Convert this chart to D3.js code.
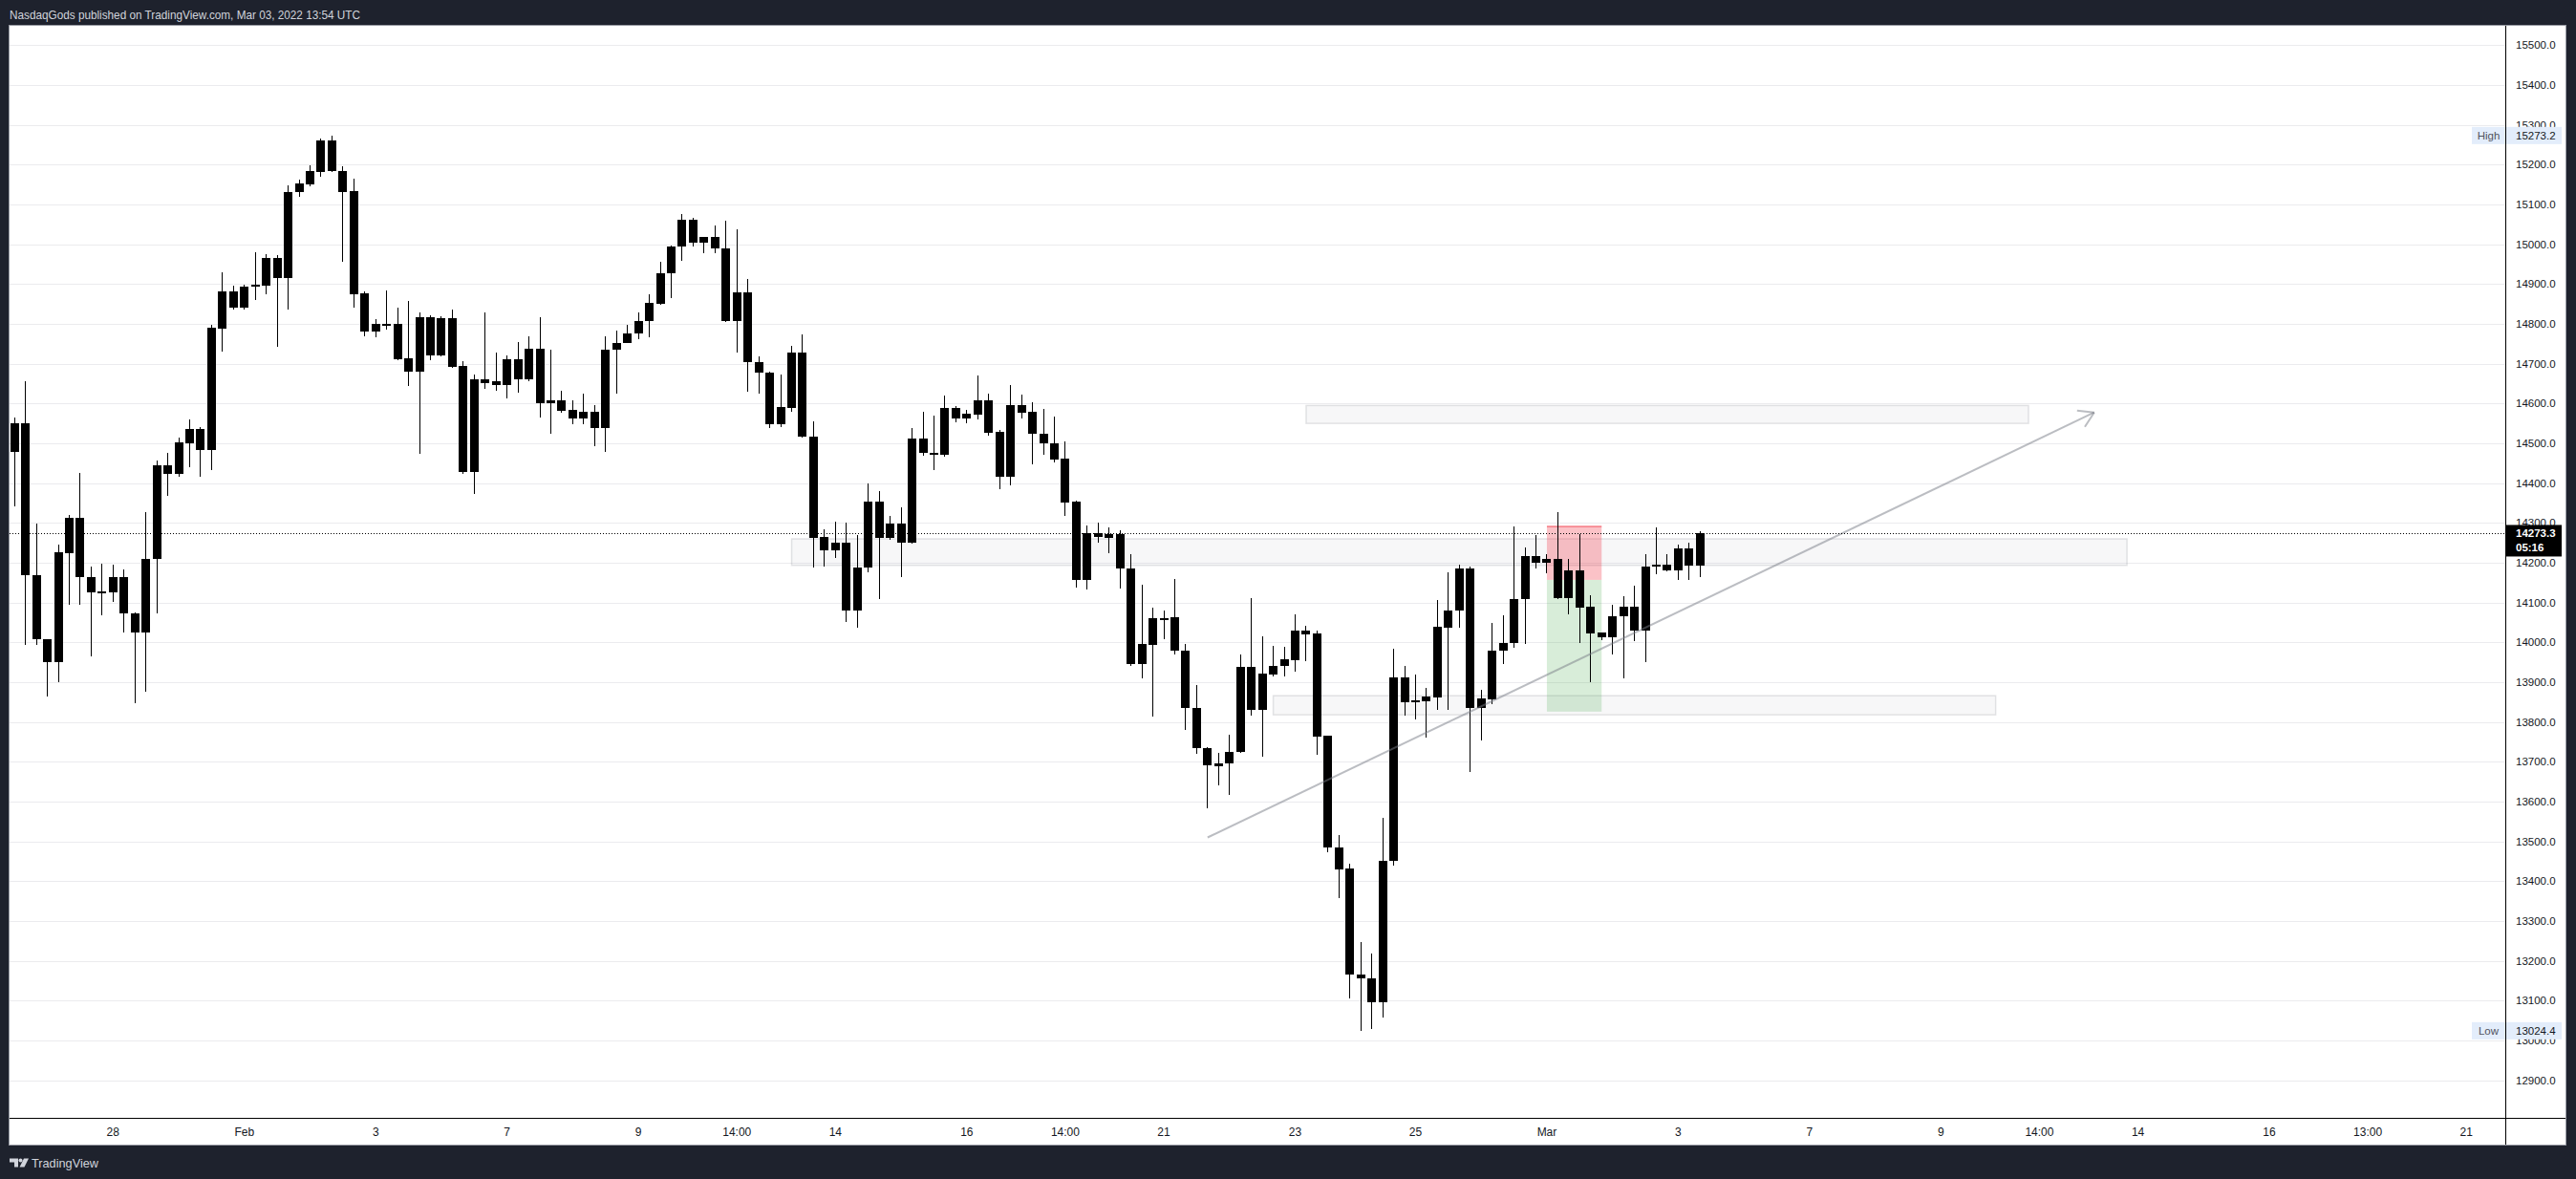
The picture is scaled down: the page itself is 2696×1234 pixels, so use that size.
<!DOCTYPE html>
<html><head><meta charset="utf-8">
<script src="https://cdn.jsdelivr.net/npm/d3@7"></script>
<style>
html,body{margin:0;padding:0;background:#1e222d;overflow:hidden;}
svg{display:block;}
</style></head><body>
<svg id="c" width="2696" height="1234"></svg>
<script>
// ---- data (NQ1! 4h candles) ----
const opens = [14479,14550,14168,14008,13950,14225,14313,14163.5,14126,14126,14163.5,14072.5,14024,14209,14445,14422,14500,14536,14484,14788,14881,14841,14893,14896,14965,14916,15130,15150,15182,15260,15185,15133,14876,14781.5,14800,14800.5,14713,14681,14817,14720,14814,14694,14427,14660,14655,14647,14711,14661,14737,14601,14609,14583,14563.5,14578,14538,14734,14753,14775,14808,14851,14926,14994,15061.6,15003,15018,14990,14808,14880,14704.5,14678,14549,14589,14728.5,14517,14265,14232,14250.6,14081,14188,14354,14263.4,14298.6,14251.4,14512.4,14477,14472,14588.7,14563,14573,14608,14528.7,14415.8,14596,14578.7,14524,14500,14462,14352.6,14156.4,14274.3,14263,14272,14185,13945,13994,14062,14063.7,13978.7,13834.6,13733.7,13690,13696,13724,13937.5,13830,13920,13942,13955,14028.7,14021.5,13764.5,13486,13431,13166.5,13157,13095,13450.7,13911,13849.4,13852,13861.4,14038,14079,14185,13835.6,13857.3,13979,13998,14108.7,14216.7,14200.7,14209.5,14111,14180.7,14089.4,14024.6,14013.4,14065.4,14089.4,14030,14190.3,14195,14181.5,14236,14193.5];
const highs = [14564.5,14655.5,14299,14008,14246,14320,14426,14191,14197,14195,14182.5,14075,14327.5,14456,14476,14514,14560,14542,14797.6,14929,14897,14899,14980,14975,14974,15149,15162,15198,15266,15273.2,15195,15166,14881,14812,14884,14840,14857,14828,14821,14820,14835.5,14706.6,14674,14828,14727.5,14722,14754,14768,14817,14735,14631,14609,14626,14595,14768,14784,14797,14828,14873.5,14955,14998,15077,15066,15019,15048,15060,15038,14913.5,14719,14680.5,14673,14745.3,14774,14555.6,14284,14303.4,14301,14270,14399.5,14380,14318,14339,14538.8,14580.4,14570,14620,14593.5,14584,14670.4,14625,14533.5,14646.4,14622,14603,14586,14567,14504.7,14355,14293,14301,14289,14282,14221,14146,14088.4,14081,14160.4,13996,13893.8,13738,13723,13767,13968.7,14110.4,14014.3,13990.3,13988,14069.6,14040.8,14030,13766,13517,13443,13248,13217.7,13560,13983,13940,13918.3,13884.6,14105.6,14175,14195,14190,13880.5,14048.6,14067.8,14291.2,14238.4,14269.6,14220.7,14327.2,14209.5,14272,14118.3,14024.6,14093.4,14115.9,14142.3,14221.5,14288.8,14221.5,14245.6,14250.4,14279];
const lows = [14341.7,13994,13994,13864,13900,14094,14094,13964.5,14067,14102,14026,13848,13877,14073.5,14369,14417,14441,14415,14432,14731,14836.5,14835,14860,14875,14743,14836.5,15120,15145,15170,15182,14957,14841,14770,14767,14786,14708,14645,14472.5,14708,14718,14690,14424,14374,14637,14633,14612,14628,14655,14566,14523,14576,14547,14549,14493,14478,14626,14751,14762.6,14767,14849,14864,14957.5,14995,14977,14977,14806,14729,14630,14626,14538,14542,14580,14515,14189,14190,14212,14052,14037,14177,14109.7,14258.6,14164,14247,14470,14434,14467,14553.5,14551,14560.7,14519,14386,14395,14563,14447,14472,14451,14317,14137,14132.4,14250,14225,14135,13940,13909,13813,14007.5,13969,13779,13719,13583,13640.5,13616,13722,13816,13711.7,13914,13914,13926,13952.7,13717,13472,13357,13105,13024.4,13028,13056.8,13438.7,13815.8,13807,13760.5,13830,13830,14037,13675.5,13753.2,13845,13946,13987,13996.6,14186.3,14173.5,14108,14070,13999,13900,14006,13970,13909.3,14003.8,13951,14171.9,14179,14157.5,14157.5,14164.7];
const closes = [14550,14168,14007,13950,14227,14313,14163.5,14126,14127,14163.5,14072.5,14024,14209,14445,14422,14503,14536,14484,14790,14881,14841,14893,14898,14965,14916,15130,15152,15183,15260,15183,15131,14875,14781.5,14800.5,14801,14711,14681,14817,14720,14815,14692,14427,14660,14652,14647,14711,14661,14737,14601,14609,14582.5,14563.5,14578,14538,14734,14753,14775,14808,14852,14926,14994,15061.6,15003,15018,14989,14808,14880,14703,14676.5,14549,14591.6,14728.5,14515.6,14263.4,14232,14250.6,14080.8,14188,14354,14263.4,14298.6,14251.4,14512.4,14477,14472,14589,14563,14574.3,14608,14527,14415.8,14596,14577.5,14524,14500,14460,14351,14156.4,14274.3,14264.5,14272,14185,13945,13995.5,14062,14060,13978.7,13834.6,13733.7,13690.4,13696,13726,13937.5,13830,13920.7,13942,13956.7,14028.7,14020,13763,13484.3,13429,13165,13155.3,13095,13452,13911,13849.4,13853.4,13863,14038.4,14079.6,14185,13835.5,13859,13979,13998,14108.7,14216.7,14200.7,14209.5,14111,14180.7,14087.8,14023,14013.4,14065.4,14089.4,14030,14190.3,14195,14181.5,14236,14193.5,14273.3];

const timeTickIndex  = [9,21,33,45,57,66,75,87,96,105,117,128,140,152,164,176,185,194,206,215,224];
const timeTickLabels = ['28','Feb','3','7','9','14:00','14','16','14:00','21','23','25','Mar','3','7','9','14:00','14','16','13:00','21'];
const priceTicks = [12900,13000,13100,13200,13300,13400,13500,13600,13700,13800,13900,14000,14100,14200,14300,14400,14500,14600,14700,14800,14900,15000,15100,15200,15300,15400,15500];

// drawings
const zoneStart  = [118, 71, 115];
const zoneEnd    = [184, 193, 181];
const zoneTop    = [14595, 14260, 13866];
const zoneBottom = [14550, 14193.5, 13818];
const positionIdx = [140, 145];
const positionPrices = [14291, 14157, 13826]; // stop, entry, target
const trendIdx = [109, 190];
const trendPrice = [13510, 14577.5];
const lastPrice = 14273.3, lastTimer = '05:16';
const highPrice = 15273.2, lowPrice = 13024.4;
const headerText = 'NasdaqGods published on TradingView.com, Mar 03, 2022 13:54 UTC';

// ---- layout ----
const svg = d3.select('#c');
const panel = {x0: 10, x1: 2685, y0: 27, y1: 1198};
const plot = {x0: 10, x1: 2622, y0: 27, y1: 1170};
const x = d3.scaleLinear().domain([-0.454, 227.56]).range([plot.x0, plot.x1]);
const y = d3.scaleLinear().domain([12805.6, 15548.8]).range([plot.y1, plot.y0]);
const FONT = "'Liberation Sans', Arial, sans-serif";

svg.append('rect').attr('width', 2696).attr('height', 1234).attr('fill', '#1e222d');
svg.append('text').attr('x', 10).attr('y', 19.5).attr('fill', '#d1d4dc')
  .attr('font-family', FONT).attr('font-size', 13).attr('textLength', 367)
  .attr('lengthAdjust', 'spacingAndGlyphs').text(headerText);

svg.append('rect').attr('x', panel.x0 - 0.5).attr('y', panel.y0 - 0.5)
  .attr('width', panel.x1 - panel.x0 + 1).attr('height', panel.y1 - panel.y0 + 1)
  .attr('fill', '#ffffff').attr('stroke', '#9598a1').attr('stroke-width', 1);

svg.append('defs').append('clipPath').attr('id', 'plotClip').append('rect')
  .attr('x', plot.x0).attr('y', plot.y0).attr('width', plot.x1 - plot.x0).attr('height', plot.y1 - plot.y0);
const g = svg.append('g').attr('clip-path', 'url(#plotClip)');

// grid
g.selectAll('line.grid').data(priceTicks).join('line')
  .attr('x1', plot.x0).attr('x2', plot.x1)
  .attr('y1', d => Math.round(y(d)) + 0.5).attr('y2', d => Math.round(y(d)) + 0.5)
  .attr('stroke', '#ebebee').attr('stroke-width', 1);

// zones
zoneStart.forEach((s, k) => {
  g.append('rect').attr('x', x(s)).attr('y', y(zoneTop[k]))
    .attr('width', x(zoneEnd[k]) - x(s)).attr('height', y(zoneBottom[k]) - y(zoneTop[k]))
    .attr('fill', 'rgba(120,123,134,0.06)').attr('stroke', 'rgba(120,123,134,0.2)').attr('stroke-width', 1.5);
});

// position (short): stop area red, target area green
const px0 = x(positionIdx[0]), px1 = x(positionIdx[1]);
g.append('rect').attr('x', px0).attr('y', y(positionPrices[0])).attr('width', px1 - px0)
  .attr('height', y(positionPrices[1]) - y(positionPrices[0])).attr('fill', 'rgba(242,54,69,0.3)');
g.append('rect').attr('x', px0).attr('y', y(positionPrices[1])).attr('width', px1 - px0)
  .attr('height', y(positionPrices[2]) - y(positionPrices[1])).attr('fill', 'rgba(76,175,80,0.22)');
g.append('line').attr('x1', px0).attr('x2', px1).attr('y1', y(positionPrices[0])).attr('y2', y(positionPrices[0]))
  .attr('stroke', 'rgba(242,54,69,0.45)').attr('stroke-width', 2);

// candles
const idx = d3.range(opens.length);
const bw = 9;
const cg = g.append('g').attr('shape-rendering', 'crispEdges');
cg.selectAll('line.wick').data(idx).join('line')
  .attr('x1', i => Math.round(x(i) - bw / 2) + bw / 2).attr('x2', i => Math.round(x(i) - bw / 2) + bw / 2)
  .attr('y1', i => y(highs[i])).attr('y2', i => y(lows[i]))
  .attr('stroke', '#000').attr('stroke-width', 1.2);
cg.selectAll('rect.body').data(idx).join('rect')
  .attr('x', i => Math.round(x(i) - bw / 2)).attr('width', bw)
  .attr('y', i => Math.round(y(Math.max(opens[i], closes[i]))))
  .attr('height', i => Math.max(2, Math.round(y(Math.min(opens[i], closes[i]))) - Math.round(y(Math.max(opens[i], closes[i])))))
  .attr('fill', '#000');

// trend arrow
const ax0 = x(trendIdx[0]), ay0 = y(trendPrice[0]), ax1 = x(trendIdx[1]), ay1 = y(trendPrice[1]);
const ang = Math.atan2(ay1 - ay0, ax1 - ax0);
const tc = 'rgba(120,123,134,0.5)';
g.append('line').attr('x1', ax0).attr('y1', ay0).attr('x2', ax1).attr('y2', ay1)
  .attr('stroke', tc).attr('stroke-width', 2);
[-0.55, 0.55].forEach(da => {
  g.append('line').attr('x1', ax1).attr('y1', ay1)
    .attr('x2', ax1 - 18 * Math.cos(ang + da)).attr('y2', ay1 - 18 * Math.sin(ang + da))
    .attr('stroke', tc).attr('stroke-width', 2);
});

// last price dotted line
g.append('line').attr('x1', plot.x0).attr('x2', plot.x1)
  .attr('y1', Math.round(y(lastPrice)) + 0.5).attr('y2', Math.round(y(lastPrice)) + 0.5)
  .attr('stroke', '#000').attr('stroke-width', 1).attr('stroke-dasharray', '1,2');

// axes lines
svg.append('line').attr('x1', plot.x1 + 0.5).attr('x2', plot.x1 + 0.5).attr('y1', panel.y0).attr('y2', panel.y1)
  .attr('stroke', '#000').attr('stroke-width', 1);
svg.append('line').attr('x1', panel.x0).attr('x2', panel.x1).attr('y1', plot.y1 + 0.5).attr('y2', plot.y1 + 0.5)
  .attr('stroke', '#000').attr('stroke-width', 1);

// price axis labels
svg.selectAll('text.pl').data(priceTicks).join('text')
  .attr('x', 2633).attr('y', d => y(d)).attr('dy', '0.35em')
  .attr('font-family', FONT).attr('font-size', 11.5).attr('fill', '#131722')
  .text(d => d3.format('.1f')(d));

// time axis labels
svg.selectAll('text.tl').data(timeTickIndex).join('text')
  .attr('x', i => x(i)).attr('y', 1185).attr('dy', '0.35em').attr('text-anchor', 'middle')
  .attr('font-family', FONT).attr('font-size', 12).attr('fill', '#131722')
  .text((d, k) => timeTickLabels[k]);

// High / Low markers
function hlLabel(name, v) {
  const yc = y(v);
  svg.append('rect').attr('x', 2587).attr('y', yc - 9).attr('width', 35).attr('height', 18).attr('fill', '#e3edfb');
  svg.append('rect').attr('x', 2623).attr('y', yc - 9).attr('width', 58).attr('height', 18).attr('fill', '#e3edfb');
  svg.append('text').attr('x', 2604.5).attr('y', yc).attr('dy', '0.35em').attr('text-anchor', 'middle')
    .attr('font-family', FONT).attr('font-size', 11.5).attr('fill', '#50535e').text(name);
  svg.append('text').attr('x', 2633).attr('y', yc).attr('dy', '0.35em')
    .attr('font-family', FONT).attr('font-size', 11.5).attr('fill', '#131722').text(d3.format('.1f')(v));
}
hlLabel('High', highPrice);
hlLabel('Low', lowPrice);

// last price box
const ly = y(lastPrice);
svg.append('rect').attr('x', 2623).attr('y', ly - 9).attr('width', 58).attr('height', 33).attr('fill', '#000');
svg.append('text').attr('x', 2633).attr('y', ly).attr('dy', '0.35em').attr('font-family', FONT)
  .attr('font-size', 11.5).attr('font-weight', 'bold').attr('fill', '#fff').text(d3.format('.1f')(lastPrice));
svg.append('text').attr('x', 2633).attr('y', ly + 15).attr('dy', '0.35em').attr('font-family', FONT)
  .attr('font-size', 11.5).attr('font-weight', 'bold').attr('fill', '#fff').text(lastTimer);

// TradingView footer logo
const lg = svg.append('g').attr('fill', '#d1d4dc');
lg.append('path').attr('d', 'M10,1212.5 h9 v9 h-4 v-5 h-5 z');
lg.append('circle').attr('cx', 21.5).attr('cy', 1214.5).attr('r', 2);
lg.append('path').attr('d', 'M25,1212.5 h5 l-4.5,9 h-5 z');
svg.append('text').attr('x', 33).attr('y', 1221.5).attr('font-family', FONT).attr('font-size', 13)
  .attr('textLength', 70).attr('lengthAdjust', 'spacingAndGlyphs').attr('fill', '#d1d4dc').text('TradingView');
</script>
</body></html>
